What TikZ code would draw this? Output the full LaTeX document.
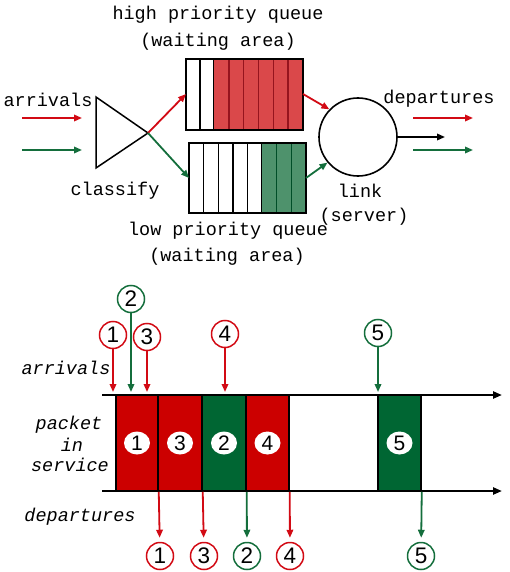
\documentclass[tikz,border=0pt]{standalone}
\usepackage{fontspec}
\usepackage{xcolor}
\usetikzlibrary{arrows.meta,shapes.geometric}
\newfontfamily\lblfont{Liberation Mono}
\newfontfamily\numfont{Liberation Sans}
\definecolor{pred}{RGB}{204,0,0}
\definecolor{pgreen}{RGB}{0,102,51}
\definecolor{ared}{RGB}{210,10,20}
\definecolor{agreen}{RGB}{20,110,60}
\definecolor{qred}{RGB}{218,72,74}
\definecolor{qredline}{RGB}{150,20,30}
\definecolor{qgreen}{RGB}{78,146,108}
\definecolor{qgreenline}{RGB}{0,78,40}

\begin{document}
\begin{tikzpicture}[x=1pt,y=1pt,yscale=-1,
  arr/.style={line width=1.8pt,-{Triangle[length=8pt,width=6.5pt]}},
  txt/.style={inner sep=0pt,font=\fontsize{18.5}{20}\selectfont\lblfont},
  itxt/.style={inner sep=0pt,font=\fontsize{18.5}{20}\selectfont\lblfont\itshape},
  numc/.style={circle,draw,line width=1.5pt,minimum size=27pt,inner sep=0pt,font=\fontsize{22.5}{22}\selectfont\numfont},
  wnum/.style={ellipse,fill=white,minimum width=26pt,minimum height=23pt,inner sep=0pt,font=\fontsize{21}{21}\selectfont\numfont},
  pbox/.style={draw=black,line width=1.5pt,minimum height=96pt,inner sep=0pt},
  qline/.style={line width=1.4pt}]
\useasboundingbox (0,0) rectangle (509,572);

%Shape: classify triangle
\draw [line width=1.5pt] (96,97) -- (96,168) -- (148,133) -- cycle;
\coordinate (tip) at (148,133);

%Shape: high priority queue
\draw [qline] (186,59) rectangle (214,130); \draw [qline] (200,59) -- (200,130);
\fill [qred] (214,59) rectangle (303,130);
\foreach \i in {1,...,5} \draw [qline,qredline] ({214+\i*14.83},59) -- ++(0,71);
\draw [qline] (214,59) -- (303,59) -- (303,130) -- (214,130);
\coordinate (hqW) at (186,94); \coordinate (hqE) at (303,94);

%Shape: low priority queue
\draw [qline] (189,143) rectangle (262,213);
\foreach \i in {1,...,4} \draw [qline] ({189+\i*14.6},143) -- ++(0,70);
\fill [qgreen] (262,143) rectangle (306,213);
\foreach \i in {1,2} \draw [qline,qgreenline] ({262+\i*14.67},143) -- ++(0,70);
\draw [qline] (262,143) -- (306,143) -- (306,213) -- (262,213);
\coordinate (lqW) at (189,178); \coordinate (lqE) at (306,178);

%Shape: link circle
\node [circle,draw,line width=1.6pt,minimum size=78pt,inner sep=0pt] (link) at (358,137) {};

%Straight Lines: arrivals / departures
\coordinate (inRs) at (22,118); \coordinate (inRe) at (82,118);
\coordinate (inGs) at (22,150); \coordinate (inGe) at (82,150);
\coordinate (outRs) at (413,118); \coordinate (outRe) at (473,118);
\coordinate (outGs) at (413,150); \coordinate (outGe) at (473,150);
\coordinate (outK) at (445,137);
\draw [arr,ared] (inRs) -- (inRe);
\draw [arr,agreen] (inGs) -- (inGe);
\draw [arr,ared] (tip) -- (hqW);
\draw [arr,agreen] (tip) -- (lqW);
\draw [arr,ared] (hqE) -- (link.136);
\draw [arr,agreen] (lqE) -- (link.220);
\draw [arr] (link.east) -- (outK);
\draw [arr,ared] (outRs) -- (outRe);
\draw [arr,agreen] (outGs) -- (outGe);

% Text Node
\node [txt] (hqT1) at (218,15) {high priority queue};
\node [txt] (hqT2) at (218,42) {(waiting area)};
\node [txt] (arrT) at (48,100) {arrivals};
\node [txt] (depT) at (439,99) {departures};
\node [txt] (clsT) at (115,191) {classify};
\node [txt] (lnkT1) at (360,191) {link};
\node [txt] (lnkT2) at (364,217) {(server)};
\node [txt] (lqT1) at (228,231) {low priority queue};
\node [txt] (lqT2) at (227,257) {(waiting area)};

%Shape: packets in service
\node [pbox,fill=pred,minimum width=42pt] (b1) at (137,443) {};
\node [pbox,fill=pred,minimum width=44pt] (b3) at (180,443) {};
\node [pbox,fill=pgreen,minimum width=44pt] (b2) at (224,443) {};
\node [pbox,fill=pred,minimum width=43pt] (b4) at (267.5,443) {};
\node [pbox,fill=pgreen,minimum width=43pt] (b5) at (399.5,443) {};
\foreach \n in {1,...,5} \node [wnum] (w\n) at (b\n) {\n};

%Straight Lines: time axes
\coordinate (axA0) at (102,395); \coordinate (axA1) at (502,395);
\coordinate (axD0) at (102,491); \coordinate (axD1) at (502,491);
\draw [line width=2.2pt,-{Triangle[length=9pt,width=7pt]}] (axA0) -- (axA1);
\draw [line width=2.2pt,-{Triangle[length=9pt,width=7pt]}] (axD0) -- (axD1);
\coordinate (arrTop) at (102,392);

%arrivals
\node [numc,draw=ared] (a1) at (113,335) {1};
\node [numc,draw=agreen] (a2) at (131,299) {2};
\node [numc,draw=ared] (a3) at (147,337) {3};
\node [numc,draw=ared] (a4) at (225,334) {4};
\node [numc,draw=agreen] (a5) at (378,333) {5};
\draw [arr,ared] (a1) -- (a1 |- arrTop);
\draw [arr,agreen] (a2) -- (a2 |- arrTop);
\draw [arr,ared] (a3) -- (a3 |- arrTop);
\draw [arr,ared] (a4) -- (a4 |- arrTop);
\draw [arr,agreen] (a5) -- (a5 |- arrTop);

%departures
\node [numc,draw=ared] (d1) at (160,556) {1};
\node [numc,draw=ared] (d3) at (204,556) {3};
\node [numc,draw=agreen] (d2) at (247,556) {2};
\node [numc,draw=ared] (d4) at (290,556) {4};
\node [numc,draw=agreen] (d5) at (421,556) {5};
\draw [arr,ared,shorten >=4pt] (b1.south east) -- (d1);
\draw [arr,ared,shorten >=4pt] (b3.south east) -- (d3);
\draw [arr,agreen,shorten >=4pt] (b2.south east) -- (d2);
\draw [arr,ared,shorten >=4pt] (b4.south east) -- (d4);
\draw [arr,agreen,shorten >=4pt] (b5.south east) -- (d5);

% Text Node
\node [itxt] (arrL) at (66,368) {arrivals};
\node [itxt] (pktL1) at (69,425) {packet};
\node [itxt] (pktL2) at (72,445) {in};
\node [itxt] (pktL3) at (70,465) {service};
\node [itxt] (depL) at (80,517) {departures};
\end{tikzpicture}
\end{document}
